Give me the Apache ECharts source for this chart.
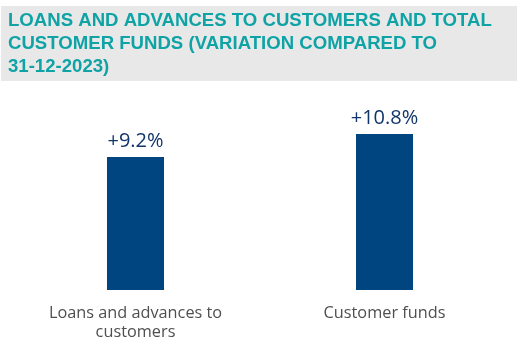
<!DOCTYPE html>
<html><head><meta charset="utf-8">
<script src="https://cdn.jsdelivr.net/npm/echarts@6/dist/echarts.min.js"></script>
<style>html,body{margin:0;padding:0;background:#fff}#c{width:517px;height:345px}</style>
</head><body><div id="c"></div>
<script>
const titleLines = ['LOANS AND ADVANCES TO CUSTOMERS AND TOTAL','CUSTOMER FUNDS (VARIATION COMPARED TO','31-12-2023)'];
const categories = ['Loans and advances to\ncustomers','Customer funds'];
const values = [9.2, 10.8];
const chart = echarts.init(document.getElementById('c'));
chart.setOption({
  animation:false,
  graphic:[{type:'rect',shape:{x:1,y:6,width:516,height:75},style:{fill:'#e8e8e8'},z:-1}],
  title:{text:titleLines.join('\n'),left:8,top:9,padding:0,textStyle:{fontFamily:'Liberation Sans',fontWeight:'bold',fontSize:18.6,lineHeight:23,color:'#0fa3a6'}},
  grid:{left:11,right:8,top:116.6,bottom:55},
  xAxis:{type:'category',data:categories,axisLine:{show:false},axisTick:{show:false},
    axisLabel:{interval:0,margin:14,fontFamily:'Open Sans',fontWeight:500,fontSize:16.3,lineHeight:19,color:'#4f4f4f'}},
  yAxis:{type:'value',min:0,max:12,show:false,splitLine:{show:false}},
  series:[{type:'bar',data:values,barWidth:57,itemStyle:{color:'#00457f'},
    label:{show:true,position:'top',distance:6,formatter:p=>'+'+p.value.toFixed(1)+'%',fontFamily:'Open Sans',fontWeight:500,fontSize:20,color:'#12356a'}}]
});
</script></body></html>
